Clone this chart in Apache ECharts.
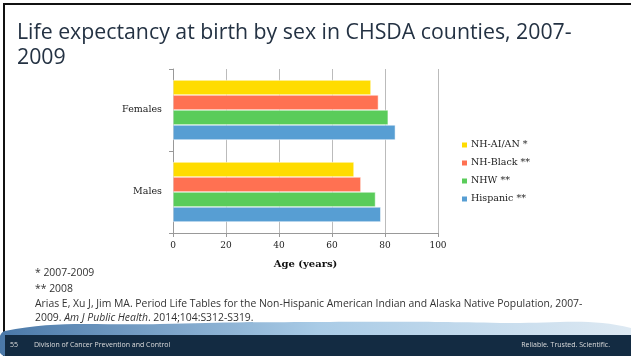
<!DOCTYPE html>
<html><head><meta charset="utf-8">
<script src="https://cdn.jsdelivr.net/npm/echarts@6/dist/echarts.min.js"></script>
<style>html,body{margin:0;padding:0;background:#fff}#c{width:631px;height:356px}</style>
</head><body><div id="c"></div>
<script>
const categories = ['Males', 'Females'];
const seriesNames = ['NH-AI/AN *', 'NH-Black **', 'NHW **', 'Hispanic **'];
const nhAian = [68.3, 74.7];
const nhBlack = [70.9, 77.5];
const nhw = [76.4, 81.2];
const hispanic = [78.4, 83.9];
const xTicks = [0, 20, 40, 60, 80, 100];
const colors = ['#FFDC00', '#FF7152', '#5ACC5A', '#579ED3'];
const values = [nhAian, nhBlack, nhw, hispanic];

const chart = echarts.init(document.getElementById('c'), null, {renderer: 'canvas'});
const serif = '"DejaVu Serif", "Liberation Serif", serif';
const sans = '"Open Sans", "Noto Sans", sans-serif';
chart.setOption({
  animation: false,
  grid: {left: 173, right: 193, top: 69, bottom: 123, containLabel: false},
  legend: {
    orient: 'vertical', left: 455, top: 135, itemWidth: 7, itemHeight: 7, itemGap: 8,
    icon: 'rect',
    data: seriesNames,
    textStyle: {fontFamily: serif, fontSize: 9.5, color: '#222', padding: [0,0,0,-2]}
  },
  xAxis: {
    type: 'value', min: 0, max: 100, interval: 20,
    axisLine: {show: true, lineStyle: {color: '#999'}},
    axisTick: {show: true, length: 4, inside: false, lineStyle: {color: '#999'}},
    axisLabel: {fontFamily: serif, fontSize: 9, color: '#222', margin: 8,
      formatter: v => xTicks.includes(v) ? String(v) : ''},
    splitLine: {show: true, lineStyle: {color: '#bbb', width: 1}},
    name: 'Age (years)', nameLocation: 'middle', nameGap: 26,
    nameTextStyle: {fontFamily: serif, fontSize: 10, fontWeight: 'bold', color: '#111'}
  },
  yAxis: {
    type: 'category', data: categories,
    axisLine: {show: true, lineStyle: {color: '#999'}},
    axisTick: {show: true, length: 4, lineStyle: {color: '#999'}},
    axisLabel: {fontFamily: serif, fontSize: 9.5, color: '#222', margin: 11}
  },
  series: values.map((d, i) => ({
    type: 'bar', name: seriesNames[i], data: d,
    barGap: '0%', barCategoryGap: '27%',
    itemStyle: {color: colors[i], borderColor: '#fff', borderWidth: 0.5}
  })),
  graphic: [
    {type: 'rect', shape: {x: 3, y: 3, width: 628, height: 2}, style: {fill: '#111'}, silent: true},
    {type: 'rect', shape: {x: 3, y: 3, width: 2, height: 353}, style: {fill: '#111'}, silent: true},
    {type: 'text', left: 17, top: 20, style: {
      text: 'Life expectancy at birth by sex in CHSDA counties, 2007-\n2009',
      font: '21.3px "Open Sans", sans-serif', fill: '#243243', lineHeight: 25}},
    {type: 'text', left: 35, top: 268, style: {text: '* 2007-2009', font: '10.4px ' + sans, fill: '#333'}},
    {type: 'text', left: 35, top: 284, style: {text: '** 2008', font: '10.4px ' + sans, fill: '#333'}},
    {type: 'text', left: 35, top: 299, style: {
      text: 'Arias E, Xu J, Jim MA. Period Life Tables for the Non-Hispanic American Indian and Alaska Native Population, 2007-', font: '10.4px ' + sans, fill: '#333'}},
    {type: 'text', left: 35, top: 313, style: {
      text: '{n|2009. }{i|Am J Public Health}{n|. 2014;104:S312-S319.}',
      rich: {n: {font: '10.4px ' + sans, fill: '#333'}, i: {font: 'italic 10.4px ' + sans, fill: '#333'}}}},
    {type: 'polygon', silent: true, shape: {smooth: 0.4, points: [[5, 331], [160, 324], [330, 322], [500, 323], [631, 328], [631, 356], [5, 356]]},
      style: {fill: {type: 'linear', x: 0, y: 0, x2: 1, y2: 0, colorStops: [
        {offset: 0, color: '#4a78a8'}, {offset: 0.5, color: '#a9cbe6'}, {offset: 1, color: '#dfeaf3'}]}}},
    {type: 'polygon', silent: true, shape: {points: [[5, 335], [631, 335], [631, 356], [5, 356]]},
      style: {fill: '#132b42'}},
    {type: 'text', left: 10, top: 341, style: {text: '55', font: '7px ' + sans, fill: '#ddd'}},
    {type: 'text', left: 34, top: 341, style: {text: 'Division of Cancer Prevention and Control', font: '7px ' + sans, fill: '#ddd'}},
    {type: 'text', right: 21, top: 341, style: {text: 'Reliable. Trusted. Scientific.', font: '7px ' + sans, fill: '#ddd'}}
  ]
});
</script></body></html>
